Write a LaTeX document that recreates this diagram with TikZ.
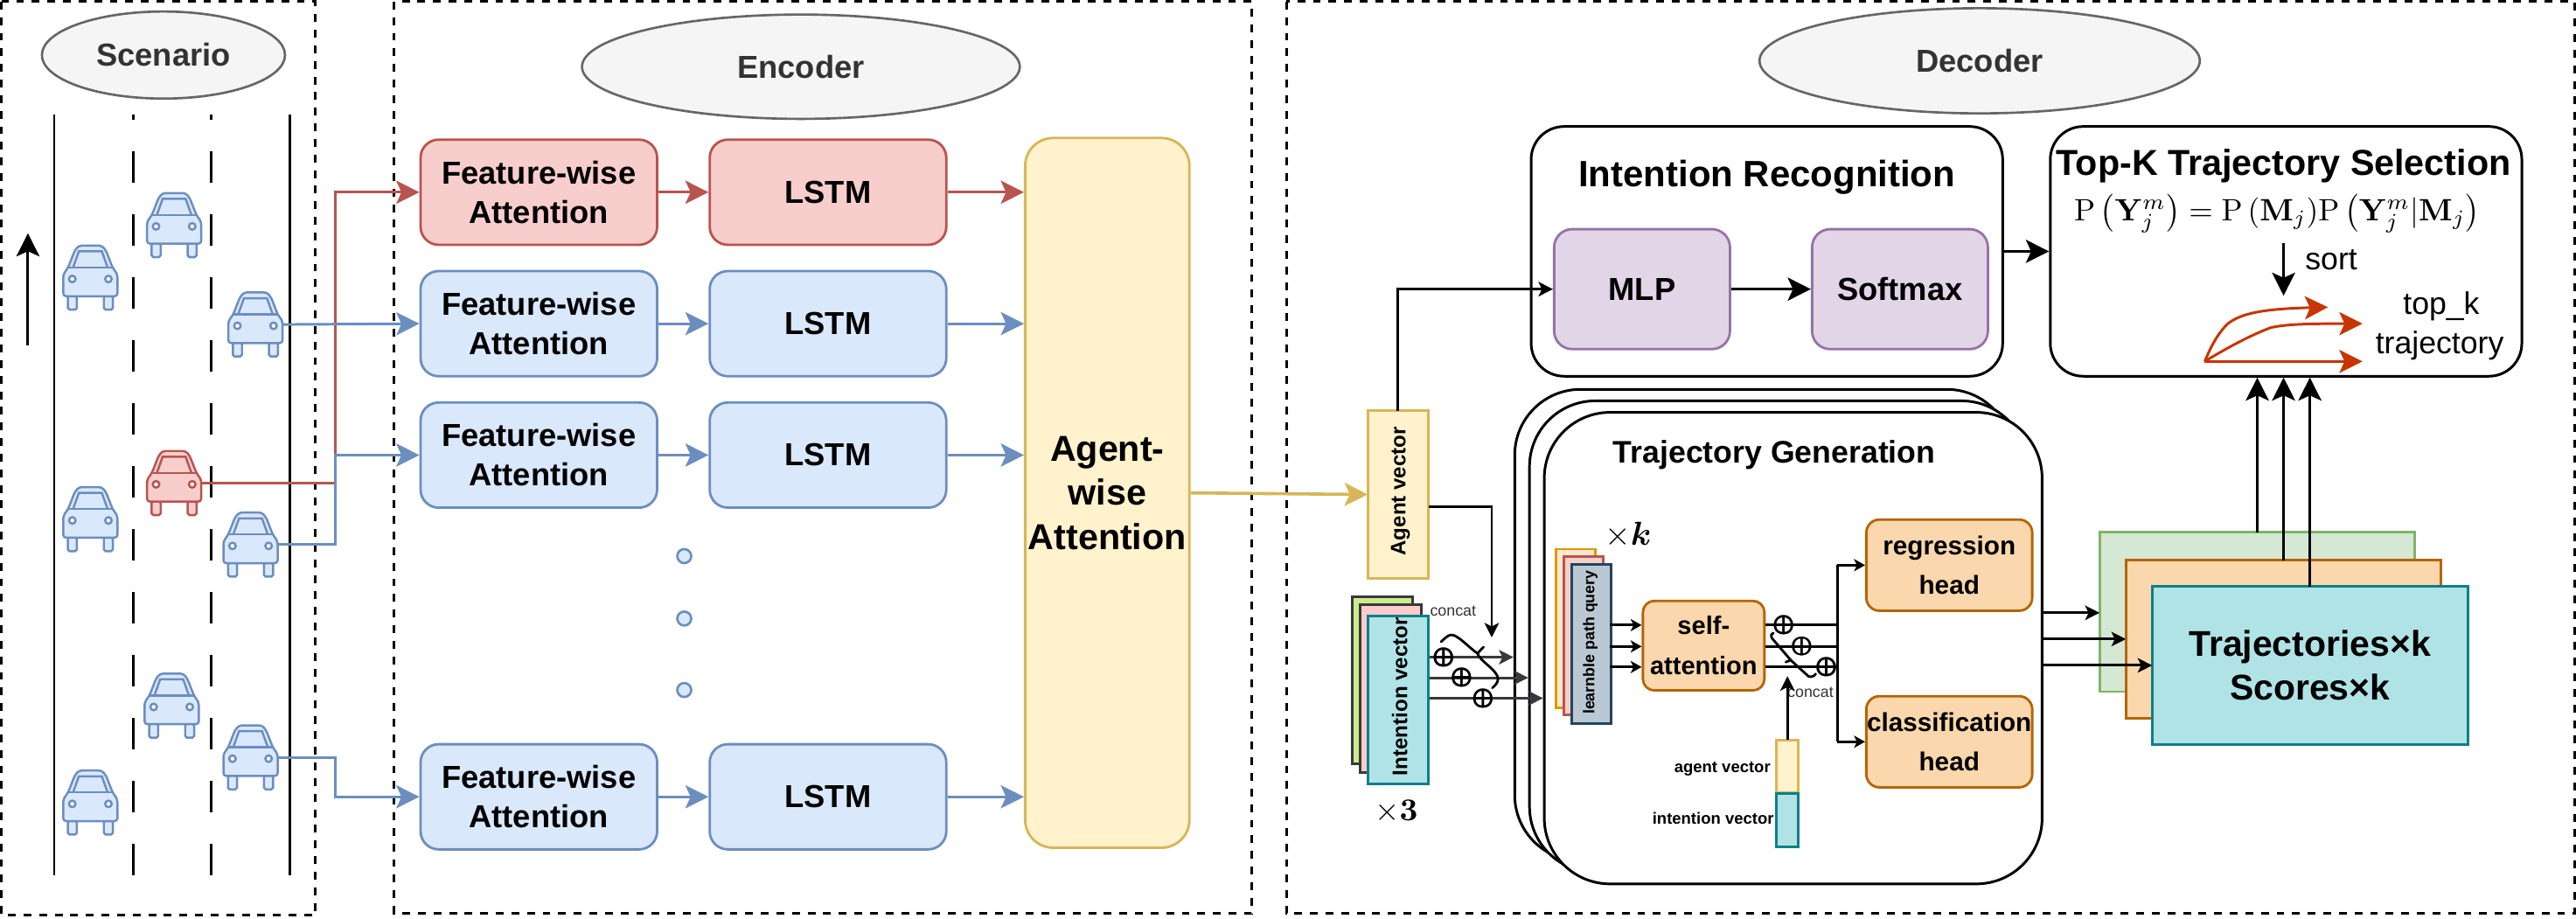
\documentclass[tikz,border=0pt]{standalone}
\usepackage{fix-cm}
\usepackage{amsmath}
\usepackage[no-math]{fontspec}
\setmainfont{Liberation Sans}
\usetikzlibrary{arrows.meta}
\usetikzlibrary{shapes.geometric}

\definecolor{redfill}{HTML}{F8CECC}
\definecolor{redline}{HTML}{B85450}
\definecolor{bluefill}{HTML}{DAE8FC}
\definecolor{blueline}{HTML}{6C8EBF}
\definecolor{yellowfill}{HTML}{FFF2CC}
\definecolor{yellowline}{HTML}{D6B656}
\definecolor{purplefill}{HTML}{E1D5E7}
\definecolor{purpleline}{HTML}{9673A6}
\definecolor{orangefill}{HTML}{FAD7AC}
\definecolor{orangeline}{HTML}{B46504}
\definecolor{tealfill}{HTML}{B0E3E6}
\definecolor{tealline}{HTML}{0E8088}
\definecolor{greenfill}{HTML}{D5E8D4}
\definecolor{greenline}{HTML}{82B366}
\definecolor{limefill}{HTML}{CDEB8B}
\definecolor{pinkfill}{HTML}{FFCCCC}
\definecolor{darkline}{HTML}{36393D}
\definecolor{peachfill}{HTML}{FFE6CC}
\definecolor{peachline}{HTML}{D79B00}
\definecolor{slatefill}{HTML}{BAC8D3}
\definecolor{slateline}{HTML}{23445D}
\definecolor{trajline}{HTML}{C73500}

\tikzset{
	frame/.style={draw, dashed, dash pattern=on 2.7pt off 2.7pt, line width=0.9pt},
	title/.style={ellipse, draw=black!60, fill=black!4, line width=0.8pt, text=black!80, inner sep=0pt, font=\fontsize{11}{13}\selectfont\bfseries},
	block/.style={draw, rounded corners=2.2mm, align=center, line width=0.85pt, minimum width=28.8mm, minimum height=12.8mm, inner sep=0pt, font=\fontsize{11}{13.6}\selectfont\bfseries},
	bigbox/.style={draw, rounded corners=4mm, line width=0.9pt, fill=white, minimum width=57.4mm, minimum height=30.4mm, inner sep=0pt},
	genbox/.style={draw, rounded corners=8mm, line width=0.9pt, fill=white, minimum width=60.6mm, minimum height=57.4mm, inner sep=0pt},
	plain/.style={draw, line width=0.9pt, inner sep=0pt, outer sep=0pt},
	head/.style={draw=orangeline, fill=orangefill, rounded corners=1.6mm, line width=0.85pt, align=center, minimum width=20.2mm, minimum height=11.1mm, inner sep=0pt, font=\fontsize{9}{13.6}\selectfont\bfseries},
	vert/.style={rotate=90, inner sep=0pt, font=\fontsize{7.3}{9}\selectfont\bfseries},
	oplus/.style={inner sep=0pt, font=\fontsize{7.5}{7.5}\selectfont},
	small/.style={inner sep=0pt, text=black!80, font=\fontsize{5.4}{6}\selectfont},
	big/.style={-{Stealth[length=8pt,width=8pt,inset=1.8pt]}, line width=0.9pt},
	mid/.style={-{Stealth[length=5pt,width=5pt,inset=1.2pt]}, line width=0.9pt},
	tiny/.style={-{Stealth[length=3.8pt,width=4.2pt,inset=1pt]}, line width=0.9pt},
	traj/.style={-{Stealth[length=8pt,width=8pt,inset=1.8pt]}, line width=0.9pt, draw=trajline},
	curly/.style={line width=0.85pt, line cap=round},
	dots/.style={circle, draw=blueline, fill=bluefill, line width=0.8pt, minimum size=1.7mm, inner sep=0pt},
}

\begin{document}
\begin{tikzpicture}[x=0.2mm, y=-0.2mm]
		\newcommand\kuruma[5]{
			% (name, x, y, fill, line)
			\node[minimum width=6.6mm, minimum height=7.8mm, inner sep=0pt, outer sep=0pt] (#1) at (#2, #3) {};
			\begin{scope}[shift={(#1.center)}, line width=0.75pt]
				\filldraw[draw=#5, fill=#4, rounded corners=0.6pt] (-13.7, 11) -- (-13.7, 19.5) -- (-8.2, 19.5) -- (-8.2, 11) -- cycle;
				\filldraw[draw=#5, fill=#4, rounded corners=0.6pt] (13.7, 11) -- (13.7, 19.5) -- (8.2, 19.5) -- (8.2, 11) -- cycle;
				\filldraw[draw=#5, fill=#4, rounded corners=1pt] (-16.5, 11.3) -- (-16.5, -2) -- (-13.5, -6.2) -- (-9.5, -16.5) -- (-7, -19.5) -- (7, -19.5) -- (9.5, -16.5) -- (13.5, -6.2) -- (16.5, -2) -- (16.5, 11.3) -- cycle;
				\draw[draw=#5] (-13.5, -6.2) -- (13.5, -6.2);
				\draw[draw=#5] (-10.5, -6.2) -- (-7, -16) -- (7, -16) -- (10.5, -6.2);
				\filldraw[draw=#5, fill=white] (-11, 0.8) circle (0.4mm);
				\filldraw[draw=#5, fill=white] (11, 0.8) circle (0.4mm);
			\end{scope}
		}
		\useasboundingbox (0, 0) rectangle (1568, 559);

		% frames
		\draw[frame] (1, 1) rectangle (192, 557);
		\draw[frame] (240, 1) rectangle (762, 556);
		\draw[frame] (783, 1) rectangle (1567, 556);
		\node[title, minimum width=29.6mm, minimum height=10.6mm] (scenario) at (99.5, 33.5) {Scenario};
		\node[title, minimum width=53.3mm, minimum height=12.7mm] (encoder) at (487.5, 40.6) {Encoder};
		\node[title, minimum width=53.6mm, minimum height=12.8mm] (decoder) at (1205, 37) {Decoder};

		% road
		\draw[line width=0.9pt] (33, 69.5) -- (33, 533);
		\draw[line width=0.9pt] (176.5, 69.5) -- (176.5, 533);
		\draw[line width=0.9pt, dash pattern=on 3.8mm off 3.86mm, dash phase=3.1mm] (81, 69.5) -- (81, 533);
		\draw[line width=0.9pt, dash pattern=on 3.8mm off 3.86mm, dash phase=3.1mm] (128.5, 69.5) -- (128.5, 533);
		\coordinate (up1) at (17, 210);
		\coordinate (up2) at (17, 142);
		\draw[big] (up1) -- (up2);

		\kuruma{car1}{55}{169}{bluefill}{blueline}
		\kuruma{car2}{106}{137}{bluefill}{blueline}
		\kuruma{car3}{155.5}{197.5}{bluefill}{blueline}
		\kuruma{car4}{55}{316}{bluefill}{blueline}
		\kuruma{car5}{106}{294}{redfill}{redline}
		\kuruma{car6}{152.5}{331.5}{bluefill}{blueline}
		\kuruma{car7}{104.5}{429.5}{bluefill}{blueline}
		\kuruma{car8}{55}{488.5}{bluefill}{blueline}
		\kuruma{car9}{152.5}{461}{bluefill}{blueline}

		% encoder
		\node[block, fill=redfill, draw=redline] (fa1) at (328, 117) {Feature-wise\\Attention};
		\node[block, fill=bluefill, draw=blueline] (fa2) at (328, 197) {Feature-wise\\Attention};
		\node[block, fill=bluefill, draw=blueline] (fa3) at (328, 277) {Feature-wise\\Attention};
		\node[block, fill=bluefill, draw=blueline] (fa4) at (328, 485) {Feature-wise\\Attention};
		\node[block, fill=redfill, draw=redline] (ls1) at (504, 117) {LSTM};
		\node[block, fill=bluefill, draw=blueline] (ls2) at (504, 197) {LSTM};
		\node[block, fill=bluefill, draw=blueline] (ls3) at (504, 277) {LSTM};
		\node[block, fill=bluefill, draw=blueline] (ls4) at (504, 485) {LSTM};
		\node[block, fill=yellowfill, draw=yellowline, rounded corners=3.4mm, minimum width=20mm, minimum height=86.4mm, font=\fontsize{12.5}{15.3}\selectfont\bfseries] (aw) at (674, 300) {Agent-\\wise\\Attention};
		\node[dots] (dot1) at (416.5, 338.5) {};
		\node[dots] (dot2) at (416.5, 376.5) {};
		\node[dots] (dot3) at (416.5, 420) {};

		\coordinate (j1) at (204, 117);
		\coordinate (j3) at (204, 277);
		\coordinate (j4) at (204, 485);
		\draw[big, redline] (car5.east) -| (j1) -- (fa1.west);
		\draw[big, blueline] (car3.east) -- (fa2.west);
		\draw[big, blueline] (car6.east) -| (j3) -- (fa3.west);
		\draw[big, blueline] (car9.east) -| (j4) -- (fa4.west);
		\draw[big, redline] (fa1.east) -- (ls1.west);
		\draw[big, blueline] (fa2.east) -- (ls2.west);
		\draw[big, blueline] (fa3.east) -- (ls3.west);
		\draw[big, blueline] (fa4.east) -- (ls4.west);
		\draw[big, redline] (ls1.east) -- (ls1.east -| aw.west);
		\draw[big, blueline] (ls2.east) -- (ls2.east -| aw.west);
		\draw[big, blueline] (ls3.east) -- (ls3.east -| aw.west);
		\draw[big, blueline] (ls4.east) -- (ls4.east -| aw.west);

		% decoder
		\node[plain, draw=yellowline, fill=yellowfill, minimum width=7.4mm, minimum height=20.4mm] (av) at (851, 301) {};
		\node[vert] (avtext) at (852.5, 299) {Agent vector};
		\draw[big, yellowline, line width=1.1pt] (aw.east) -- (av.west);

		\node[plain, draw=darkline, fill=limefill, minimum width=7.4mm, minimum height=20.4mm] (iv1) at (841.5, 414) {};
		\node[plain, draw=darkline, fill=pinkfill, minimum width=7.4mm, minimum height=20.4mm] (iv2) at (846.5, 419) {};
		\node[plain, draw=tealline, fill=tealfill, minimum width=7.4mm, minimum height=20.4mm] (iv3) at (851, 426) {};
		\node[vert] (ivtext) at (852, 424) {Intention vector};
		\node[inner sep=0pt, font=\fontsize{11}{11}\selectfont] (times3) at (850, 494) {$\times\mathbf{3}$};

		\node[bigbox] (ir) at (1075.5, 153) {};
		\node[inner sep=0pt, font=\fontsize{12.7}{14}\selectfont\bfseries] (irtext) at (1075.5, 108) {Intention Recognition};
		\node[block, fill=purplefill, draw=purpleline, minimum width=21.4mm, minimum height=14.6mm] (mlp) at (999.5, 176) {MLP};
		\node[block, fill=purplefill, draw=purpleline, minimum width=21.4mm, minimum height=14.6mm] (soft) at (1156.5, 176) {Softmax};
		\draw[big] (mlp.east) -- (soft.west);
		\draw[mid] (av.north) |- (mlp.west);

		\node[bigbox] (top) at (1391.5, 153) {};
		\node[inner sep=0pt, font=\fontsize{12.5}{14}\selectfont\bfseries] (toptext) at (1390, 101) {Top-K Trajectory Selection};
		\node[inner sep=0pt, font=\fontsize{10.7}{12}\selectfont] (formula) at (1386, 130) {$\mathrm{P}\left(\mathbf{Y}_j^m\right)=\mathrm{P}\left(\mathbf{M}_j\right)\!\mathrm{P}\left(\mathbf{Y}_j^m|\mathbf{M}_j\right)$};
		\node[inner sep=0pt, font=\fontsize{10.8}{12}\selectfont] (sort) at (1419, 158) {sort};
		\node[inner sep=0pt, font=\fontsize{10.8}{12}\selectfont] (topk) at (1486, 186.5) {top\_k};
		\node[inner sep=0pt, font=\fontsize{10.8}{12}\selectfont] (trajtext) at (1485, 210.5) {trajectory};
		\coordinate (s1) at (1390, 148);
		\coordinate (s2) at (1390, 180);
		\draw[big] (s1) -- (s2);
		\coordinate (t0) at (1342, 220);
		\coordinate (t1) at (1417, 187);
		\coordinate (t2) at (1438, 197);
		\coordinate (t3) at (1438, 220);
		\draw[traj] (t0) .. controls (1347, 208) and (1351, 202) .. (1356, 197) .. controls (1364, 191) and (1376, 188) .. (t1);
		\draw[traj] (t0) .. controls (1355, 212) and (1370, 204) .. (1382, 199.5) .. controls (1392, 197) and (1410, 197) .. (t2);
		\draw[traj] (t0) -- (t3);
		\draw[big] (ir.east) -- (top.west);

		% trajectory generation
		\node[genbox] (gen1) at (1073.5, 380.5) {};
		\node[genbox] (gen2) at (1082.5, 387.5) {};
		\node[genbox] (gen3) at (1091.5, 394.5) {};
		\node[inner sep=0pt, font=\fontsize{10.8}{12}\selectfont\bfseries] (gentext) at (1080, 277) {Trajectory Generation};

		\node[plain, draw=peachline, fill=peachfill, minimum width=4.8mm, minimum height=19.3mm] (q1) at (959, 382.5) {};
		\node[plain, draw=redline, fill=redfill, minimum width=4.8mm, minimum height=19.3mm] (q2) at (964, 387) {};
		\node[plain, draw=slateline, fill=slatefill, minimum width=4.8mm, minimum height=19.3mm] (q3) at (968.5, 392) {};
		\node[vert, font=\fontsize{5.4}{6}\selectfont\bfseries] (qtext) at (968, 391) {learnble path query};
		\node[inner sep=0pt, font=\fontsize{11.5}{12}\selectfont] (timesk) at (991, 325.5) {$\times\boldsymbol{k}$};

		\node[block, fill=orangefill, draw=orangeline, rounded corners=1.4mm, minimum width=14.8mm, minimum height=10.9mm, font=\fontsize{8.8}{13.9}\selectfont\bfseries] (sa) at (1037, 393) {self-\\attention};
		\node[head] (rh) at (1186.5, 344) {regression\\head};
		\node[head] (ch) at (1186.5, 451.5) {classification\\head};

		\coordinate (q4) at (980, 380.5);
		\coordinate (q5) at (980, 393.5);
		\coordinate (q6) at (980, 406);
		\draw[tiny] (q4) -- (q4 -| sa.west);
		\draw[tiny] (q5) -- (q5 -| sa.west);
		\draw[tiny] (q6) -- (q6 -| sa.west);
		\coordinate (vt) at (1118.5, 344);
		\coordinate (vb) at (1118.5, 451.5);
		\coordinate (v1) at (1118.5, 380.5);
		\coordinate (v2) at (1118.5, 393.5);
		\coordinate (v3) at (1118.5, 406);
		\draw[line width=0.9pt] (sa.east |- v1) -- (v1);
		\draw[line width=0.9pt] (sa.east |- v2) -- (v2);
		\draw[line width=0.9pt] (sa.east |- v3) -- (v3);
		\draw[line width=0.9pt] (vt) -- (vb);
		\draw[tiny] (vt) -- (rh.west);
		\draw[tiny] (vb) -- (ch.west);
		\node[oplus] (p1) at (1086, 380.5) {$\pmb{\boldsymbol{\oplus}}$};
		\node[oplus] (p2) at (1097, 393.5) {$\pmb{\boldsymbol{\oplus}}$};
		\node[oplus] (p3) at (1112, 406) {$\pmb{\boldsymbol{\oplus}}$};
		\draw[curly] (1079.4, 385.3) .. controls (1078, 385.7) and (1077.8, 387) .. (1078.6, 388.5) -- (1090, 401.8) -- (1100.7, 411.6) .. controls (1102, 412.3) and (1104, 412) .. (1105.2, 410.2);
		\draw[curly] (1090, 401.8) -- (1087, 403);
		\node[small] (concat2) at (1102, 421.5) {concat};

		\node[plain, draw=yellowline, fill=yellowfill, minimum width=2.7mm, minimum height=6.4mm] (ag) at (1088, 466.5) {};
		\node[plain, draw=tealline, fill=tealfill, minimum width=2.7mm, minimum height=6.5mm] (in) at (1088, 499) {};
		\coordinate (ag1) at (1088, 411.6);
		\draw[mid] (ag.north) -- (ag1);
		\node[small, text=black, anchor=east, font=\fontsize{5.6}{6}\selectfont\bfseries] (agtext) at (1078, 468) {agent vector};
		\node[small, text=black, anchor=east, font=\fontsize{5.6}{6}\selectfont\bfseries] (intext) at (1080, 498) {intention vector};

		% intention vector into generation
		\coordinate (i1) at (870, 400);
		\coordinate (i2) at (870, 412.5);
		\coordinate (i3) at (870, 425);
		\draw[mid, darkline] (i1) -- (i1 -| gen1.west);
		\draw[mid, darkline] (i2) -- (i2 -| gen2.west);
		\draw[mid, darkline] (i3) -- (i3 -| gen3.west);
		\node[oplus] (p4) at (879, 400) {$\pmb{\boldsymbol{\oplus}}$};
		\node[oplus] (p5) at (890, 412.5) {$\pmb{\boldsymbol{\oplus}}$};
		\node[oplus] (p6) at (903, 425) {$\pmb{\boldsymbol{\oplus}}$};
		\draw[curly] (877.2, 390.6) .. controls (880, 388) and (882, 386) .. (884, 386.5) .. controls (888, 387) and (895, 395) .. (899.4, 397.7) .. controls (900, 402) and (912, 408) .. (911.8, 413.3) .. controls (911.8, 415.5) and (910, 417.5) .. (908.3, 418.7);
		\draw[curly] (899.4, 397.7) -- (903, 393.8);
		\node[small] (concat1) at (884.5, 372) {concat};
		\coordinate (d1) at (908, 308.5);
		\coordinate (d2) at (908, 388);
		\draw[mid] (av.east |- d1) -- (d1) -- (d2);

		% output
		\node[plain, draw=greenline, fill=greenfill, minimum width=38.4mm, minimum height=19.4mm] (st1) at (1374, 372.5) {};
		\node[plain, draw=orangeline, fill=orangefill, minimum width=38.4mm, minimum height=19.2mm] (st2) at (1390, 389) {};
		\node[plain, draw=tealline, fill=tealfill, minimum width=38.4mm, minimum height=19.2mm, align=center, font=\fontsize{12.4}{15.3}\selectfont\bfseries] (st3) at (1406, 405) {Trajectories\texttimes k\\Scores\texttimes k};
		\coordinate (o1) at (1243, 373);
		\coordinate (o2) at (1243, 389);
		\coordinate (o3) at (1243, 405);
		\draw[mid] (o1) -- (o1 -| st1.west);
		\draw[mid] (o2) -- (o2 -| st2.west);
		\draw[mid] (o3) -- (o3 -| st3.west);
		\draw[big] (st1.north) -- (st1.north |- top.south);
		\draw[big] (st2.north) -- (st2.north |- top.south);
		\draw[big] (st3.north) -- (st3.north |- top.south);
	\end{tikzpicture}
\end{document}
